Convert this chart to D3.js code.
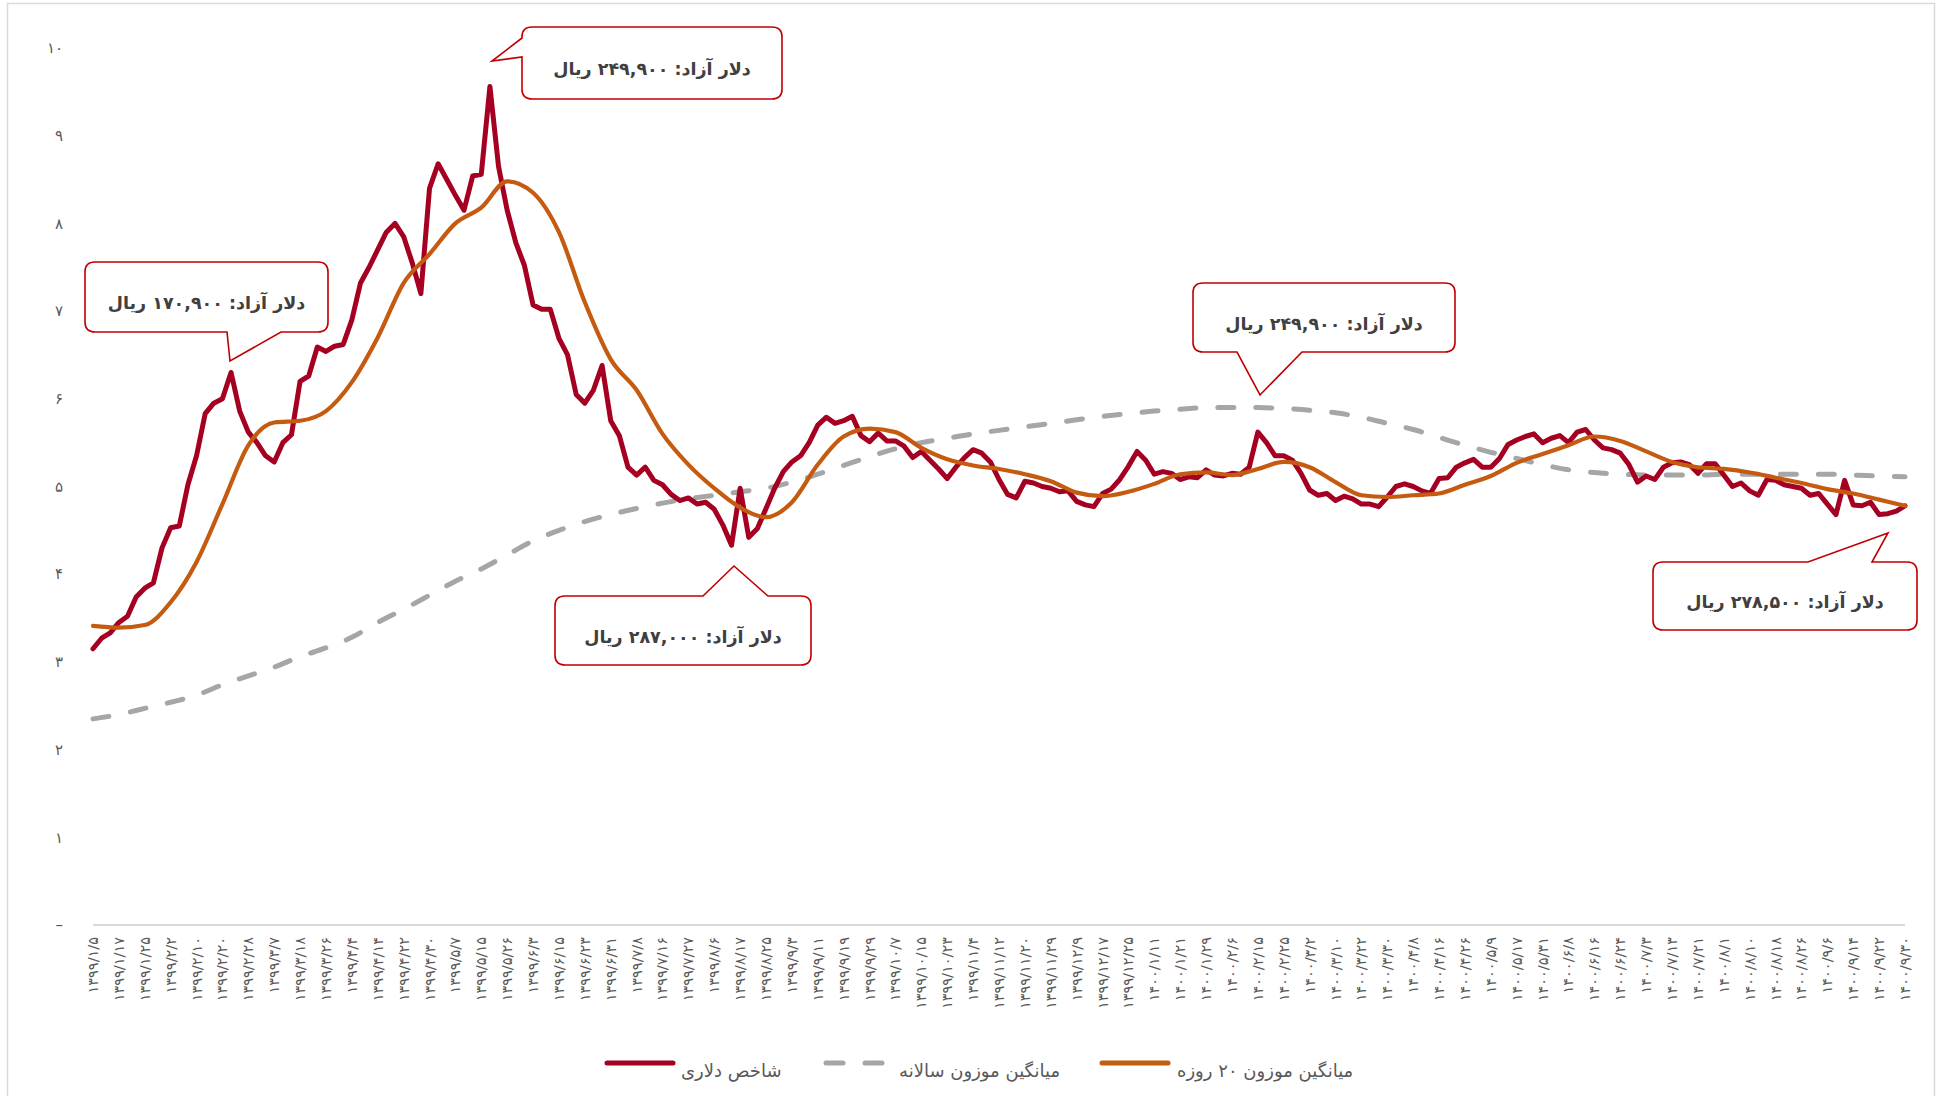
<!DOCTYPE html>
<html><head><meta charset="utf-8">
<script src="https://cdn.jsdelivr.net/npm/d3@7"></script>
<style>body{margin:0;background:#fff} svg{display:block}</style>
</head><body>
<svg id="c" width="1938" height="1096"></svg>
<script>
const dates = ["۱۳۹۹/۱/۵","۱۳۹۹/۱/۱۷","۱۳۹۹/۱/۲۵","۱۳۹۹/۲/۲","۱۳۹۹/۲/۱۰","۱۳۹۹/۲/۲۰","۱۳۹۹/۲/۲۸","۱۳۹۹/۳/۷","۱۳۹۹/۳/۱۸","۱۳۹۹/۳/۲۶","۱۳۹۹/۴/۴","۱۳۹۹/۴/۱۴","۱۳۹۹/۴/۲۲","۱۳۹۹/۴/۳۰","۱۳۹۹/۵/۷","۱۳۹۹/۵/۱۵","۱۳۹۹/۵/۲۶","۱۳۹۹/۶/۳","۱۳۹۹/۶/۱۵","۱۳۹۹/۶/۲۳","۱۳۹۹/۶/۳۱","۱۳۹۹/۷/۸","۱۳۹۹/۷/۱۶","۱۳۹۹/۷/۲۷","۱۳۹۹/۸/۶","۱۳۹۹/۸/۱۷","۱۳۹۹/۸/۲۵","۱۳۹۹/۹/۳","۱۳۹۹/۹/۱۱","۱۳۹۹/۹/۱۹","۱۳۹۹/۹/۲۹","۱۳۹۹/۱۰/۷","۱۳۹۹/۱۰/۱۵","۱۳۹۹/۱۰/۲۳","۱۳۹۹/۱۱/۴","۱۳۹۹/۱۱/۱۲","۱۳۹۹/۱۱/۲۰","۱۳۹۹/۱۱/۲۹","۱۳۹۹/۱۲/۹","۱۳۹۹/۱۲/۱۷","۱۳۹۹/۱۲/۲۵","۱۴۰۰/۱/۱۱","۱۴۰۰/۱/۲۱","۱۴۰۰/۱/۲۹","۱۴۰۰/۲/۶","۱۴۰۰/۲/۱۵","۱۴۰۰/۲/۲۵","۱۴۰۰/۳/۲","۱۴۰۰/۳/۱۰","۱۴۰۰/۳/۲۲","۱۴۰۰/۳/۳۰","۱۴۰۰/۴/۸","۱۴۰۰/۴/۱۶","۱۴۰۰/۴/۲۶","۱۴۰۰/۵/۹","۱۴۰۰/۵/۱۷","۱۴۰۰/۵/۳۱","۱۴۰۰/۶/۸","۱۴۰۰/۶/۱۶","۱۴۰۰/۶/۲۴","۱۴۰۰/۷/۳","۱۴۰۰/۷/۱۳","۱۴۰۰/۷/۲۱","۱۴۰۰/۸/۱","۱۴۰۰/۸/۱۰","۱۴۰۰/۸/۱۸","۱۴۰۰/۸/۲۶","۱۴۰۰/۹/۶","۱۴۰۰/۹/۱۴","۱۴۰۰/۹/۲۲","۱۴۰۰/۹/۳۰"];

// شاخص دلاری (three readings per date interval)
const dollarIndex = [3.15,3.27,3.33,3.45,3.52,3.74,3.84,3.9,4.3,4.53,
4.55,5.02,5.35,5.83,5.95,6.0,6.3,5.86,5.62,5.5,
5.35,5.28,5.5,5.59,6.2,6.26,6.59,6.54,6.6,6.62,
6.9,7.32,7.5,7.7,7.9,8.0,7.85,7.55,7.2,8.4,
8.68,8.5,8.32,8.15,8.54,8.56,9.56,8.65,8.15,7.78,
7.52,7.07,7.02,7.02,6.69,6.5,6.05,5.95,6.1,6.38,
5.75,5.58,5.22,5.13,5.22,5.07,5.02,4.91,4.84,4.87,
4.8,4.82,4.74,4.56,4.33,4.98,4.42,4.52,4.75,4.98,
5.17,5.28,5.35,5.5,5.7,5.79,5.72,5.75,5.8,5.58,
5.51,5.61,5.52,5.52,5.46,5.33,5.4,5.3,5.2,5.09,
5.22,5.33,5.42,5.38,5.28,5.08,4.91,4.87,5.06,5.04,
5.0,4.98,4.94,4.95,4.83,4.79,4.77,4.92,4.97,5.08,
5.23,5.4,5.3,5.14,5.17,5.15,5.08,5.11,5.1,5.19,
5.13,5.12,5.15,5.14,5.22,5.62,5.5,5.35,5.35,5.3,
5.15,4.96,4.9,4.92,4.84,4.89,4.86,4.8,4.8,4.77,
4.88,5.0,5.03,5.0,4.95,4.92,5.09,5.1,5.22,5.27,
5.31,5.22,5.22,5.32,5.48,5.53,5.57,5.6,5.5,5.55,
5.58,5.5,5.62,5.65,5.53,5.44,5.42,5.38,5.25,5.05,
5.12,5.08,5.22,5.27,5.28,5.25,5.15,5.26,5.26,5.13,
5.0,5.04,4.95,4.9,5.08,5.07,5.02,5.0,4.98,4.9,
4.92,4.8,4.68,5.07,4.79,4.78,4.82,4.68,4.69,4.72,
4.78];

// میانگین موزون ۲۰ روزه (one reading per date)
const ma20 = [3.41,3.39,3.42,3.68,4.14,4.8,5.47,5.73,5.75,5.86,
6.19,6.7,7.32,7.65,8.0,8.18,8.48,8.35,7.9,7.1,
6.45,6.1,5.6,5.25,4.98,4.76,4.65,4.82,5.25,5.57,
5.66,5.62,5.44,5.31,5.24,5.2,5.14,5.06,4.93,4.89,
4.94,5.03,5.14,5.16,5.13,5.2,5.28,5.22,5.05,4.9,
4.88,4.9,4.92,5.02,5.12,5.27,5.37,5.47,5.57,5.52,
5.4,5.28,5.22,5.2,5.16,5.1,5.04,4.97,4.92,4.85,
4.78];

// میانگین موزون سالانه (one reading per date)
const maYear = [2.35,2.4,2.47,2.54,2.62,2.74,2.84,2.94,3.06,3.16,
3.28,3.45,3.6,3.76,3.92,4.06,4.22,4.38,4.5,4.6,
4.68,4.75,4.81,4.86,4.9,4.94,4.98,5.05,5.14,5.24,
5.34,5.43,5.5,5.55,5.6,5.64,5.68,5.72,5.76,5.8,
5.83,5.86,5.88,5.9,5.9,5.9,5.89,5.87,5.84,5.79,
5.72,5.65,5.56,5.47,5.39,5.32,5.25,5.19,5.16,5.14,
5.13,5.13,5.13,5.14,5.14,5.14,5.14,5.14,5.13,5.12,
5.11];

const yTicks = [0,1,2,3,4,5,6,7,8,9,10];
const yTickLabels = ["–","۱","۲","۳","۴","۵","۶","۷","۸","۹","۱۰"];
const seriesNames = ["شاخص دلاری","میانگین موزون سالانه","میانگین موزون ۲۰ روزه"];
const calloutTexts = ["دلار آزاد:  ۱۷۰,۹۰۰ ریال","دلار آزاد:  ۲۴۹,۹۰۰ ریال","دلار آزاد:  ۲۸۷,۰۰۰ ریال","دلار آزاد:  ۲۴۹,۹۰۰ ریال","دلار آزاد:  ۲۷۸,۵۰۰ ریال"];

const FONT = "'DejaVu Sans', sans-serif";
const RED = "#a50021", ORANGE = "#c55a11", GRAY = "#a6a6a6", BOX = "#c00000";

const svg = d3.select("#c");
svg.append("rect").attr("x",7.5).attr("y",3.5).attr("width",1927).attr("height",1100)
  .attr("fill","#fff").attr("stroke","#d9d9d9").attr("stroke-width",1.5);

const x = d3.scaleLinear().domain([0, dates.length-1]).range([93, 1905]);
const y = d3.scaleLinear().domain([0, 10]).range([925, 48]);

// y labels
svg.append("g").selectAll("text").data(yTicks).join("text")
  .attr("x", 63).attr("y", d => y(d)).attr("dy","0.35em")
  .attr("text-anchor","end").attr("font-family",FONT).attr("font-size",15)
  .attr("fill","#595959").text((d,i) => yTickLabels[i]);

// x axis line
svg.append("line").attr("x1",x(0)).attr("x2",x(dates.length-1)).attr("y1",y(0)).attr("y2",y(0))
  .attr("stroke","#d9d9d9").attr("stroke-width",2);

// x labels
svg.append("g").selectAll("text").data(dates).join("text")
  .attr("transform",(d,i)=>`translate(${x(i)+5},937) rotate(-90)`)
  .attr("text-anchor","end").attr("font-family",FONT).attr("font-size",14.5)
  .attr("fill","#595959").text(d=>d);

// lines
const step = (dates.length-1)/(dollarIndex.length-1);
const lineRed = d3.line().x((d,i)=>x(i*step)).y(d=>y(d)).curve(d3.curveLinear);
const lineSmooth = d3.line().x((d,i)=>x(i)).y(d=>y(d)).curve(d3.curveMonotoneX);

svg.append("path").datum(maYear).attr("d",lineSmooth).attr("fill","none")
  .attr("stroke",GRAY).attr("stroke-width",5).attr("stroke-linecap","round")
  .attr("stroke-dasharray","16 22");
svg.append("path").datum(dollarIndex).attr("d",lineRed).attr("fill","none")
  .attr("stroke",RED).attr("stroke-width",5).attr("stroke-linejoin","round").attr("stroke-linecap","round");
svg.append("path").datum(ma20).attr("d",lineSmooth).attr("fill","none")
  .attr("stroke",ORANGE).attr("stroke-width",4.2).attr("stroke-linecap","round");

// callouts
function callout(b, ptr, text){
  const [x0,y0,x1,y1] = b, r = 10;
  const g = svg.append("g");
  const side = ptr.side;
  let p = `M${x0+r},${y0}`;
  if (side==="top") p += `L${ptr.a},${y0}L${ptr.tx},${ptr.ty}L${ptr.b},${y0}`;
  p += `L${x1-r},${y0}Q${x1},${y0} ${x1},${y0+r}L${x1},${y1-r}Q${x1},${y1} ${x1-r},${y1}`;
  if (side==="bottom") p += `L${ptr.b},${y1}L${ptr.tx},${ptr.ty}L${ptr.a},${y1}`;
  p += `L${x0+r},${y1}Q${x0},${y1} ${x0},${y1-r}`;
  if (side==="left") p += `L${x0},${ptr.b}L${ptr.tx},${ptr.ty}L${x0},${ptr.a}`;
  p += `L${x0},${y0+r}Q${x0},${y0} ${x0+r},${y0}Z`;
  g.append("path").attr("d",p).attr("fill","#fff").attr("stroke",BOX).attr("stroke-width",1.6);
  g.append("text").attr("x",(x0+x1)/2).attr("y",(y0+y1)/2+6).attr("dy","0.35em")
    .attr("text-anchor","middle").attr("direction","rtl")
    .attr("font-family",FONT).attr("font-weight","bold").attr("font-size",17.5)
    .attr("fill","#404040").text(text);
}
callout([85,262,328,332],{side:"bottom",a:227,b:281,tx:230,ty:361},calloutTexts[0]);
callout([522,27,782,99],{side:"left",a:38,b:57,tx:492,ty:61},calloutTexts[1]);
callout([555,596,811,665],{side:"top",a:703,b:768,tx:734,ty:566},calloutTexts[2]);
callout([1193,283,1455,352],{side:"bottom",a:1237,b:1302,tx:1260,ty:395},calloutTexts[3]);
callout([1653,562,1917,630],{side:"top",a:1808,b:1872,tx:1888,ty:533},calloutTexts[4]);

// legend
const lg = svg.append("g").attr("font-family",FONT).attr("font-size",18).attr("fill","#595959");
const legY = 1063;
lg.append("line").attr("x1",607).attr("x2",673).attr("y1",legY).attr("y2",legY)
  .attr("stroke",RED).attr("stroke-width",5).attr("stroke-linecap","round");
lg.append("text").attr("x",681).attr("y",legY+14).text(seriesNames[0]);
lg.append("line").attr("x1",826).attr("x2",890).attr("y1",legY).attr("y2",legY)
  .attr("stroke",GRAY).attr("stroke-width",5).attr("stroke-linecap","round").attr("stroke-dasharray","17 22");
lg.append("text").attr("x",899).attr("y",legY+14).text(seriesNames[1]);
lg.append("line").attr("x1",1102).attr("x2",1168).attr("y1",legY).attr("y2",legY)
  .attr("stroke",ORANGE).attr("stroke-width",5).attr("stroke-linecap","round");
lg.append("text").attr("x",1177).attr("y",legY+14).text(seriesNames[2]);
</script>
</body></html>
